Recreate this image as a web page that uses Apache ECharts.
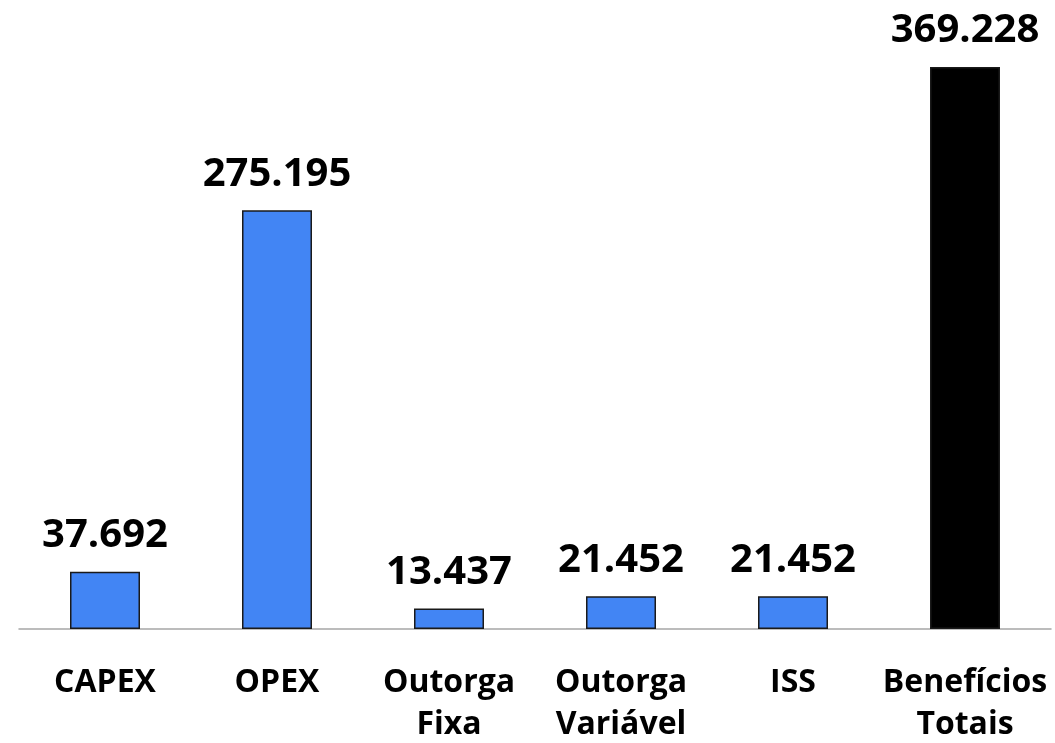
<!DOCTYPE html>
<html>
<head>
<meta charset="utf-8">
<script src="https://cdn.jsdelivr.net/npm/echarts@6/dist/echarts.min.js"></script>
<style>
html, body { margin: 0; padding: 0; background: #fff; }
#chart { width: 1055px; height: 743px; }
</style>
</head>
<body>
<div id="chart"></div>
<script>
var categories = ['CAPEX', 'OPEX', 'Outorga\nFixa', 'Outorga\nVariável', 'ISS', 'Benefícios\nTotais'];
var values = [37.692, 275.195, 13.437, 21.452, 21.452, 369.228];
var valueLabels = ['37.692', '275.195', '13.437', '21.452', '21.452', '369.228'];
var barColors = ['#4285f4', '#4285f4', '#4285f4', '#4285f4', '#4285f4', '#000000'];

var myChart = echarts.init(document.getElementById('chart'));

var seriesData = values.map(function (v, i) {
  return {
    value: v,
    itemStyle: { color: barColors[i] }
  };
});

var option = {
  backgroundColor: '#ffffff',
  animation: false,
  grid: { left: 19, right: 4, top: 67, bottom: 114, outerBoundsMode: 'none' },
  xAxis: {
    type: 'category',
    data: categories,
    axisLine: { lineStyle: { color: '#a6a6a6', width: 1.5 } },
    axisTick: { show: false },
    axisLabel: {
      color: '#000',
      fontFamily: 'Open Sans',
      fontWeight: 'bold',
      fontSize: 32,
      lineHeight: 42,
      margin: 33,
      interval: 0
    }
  },
  yAxis: {
    type: 'value',
    min: 0,
    max: 369.228,
    show: false,
    splitLine: { show: false }
  },
  series: [{
    type: 'bar',
    data: seriesData,
    barWidth: 70,
    itemStyle: { borderColor: '#1a1a1a', borderWidth: 1.5 },
    label: {
      show: true,
      position: 'top',
      distance: 16,
      color: '#000',
      fontFamily: 'Open Sans',
      fontWeight: 'bold',
      fontSize: 40,
      formatter: function (p) { return valueLabels[p.dataIndex]; }
    }
  }]
};

myChart.setOption(option);
</script>
</body>
</html>
